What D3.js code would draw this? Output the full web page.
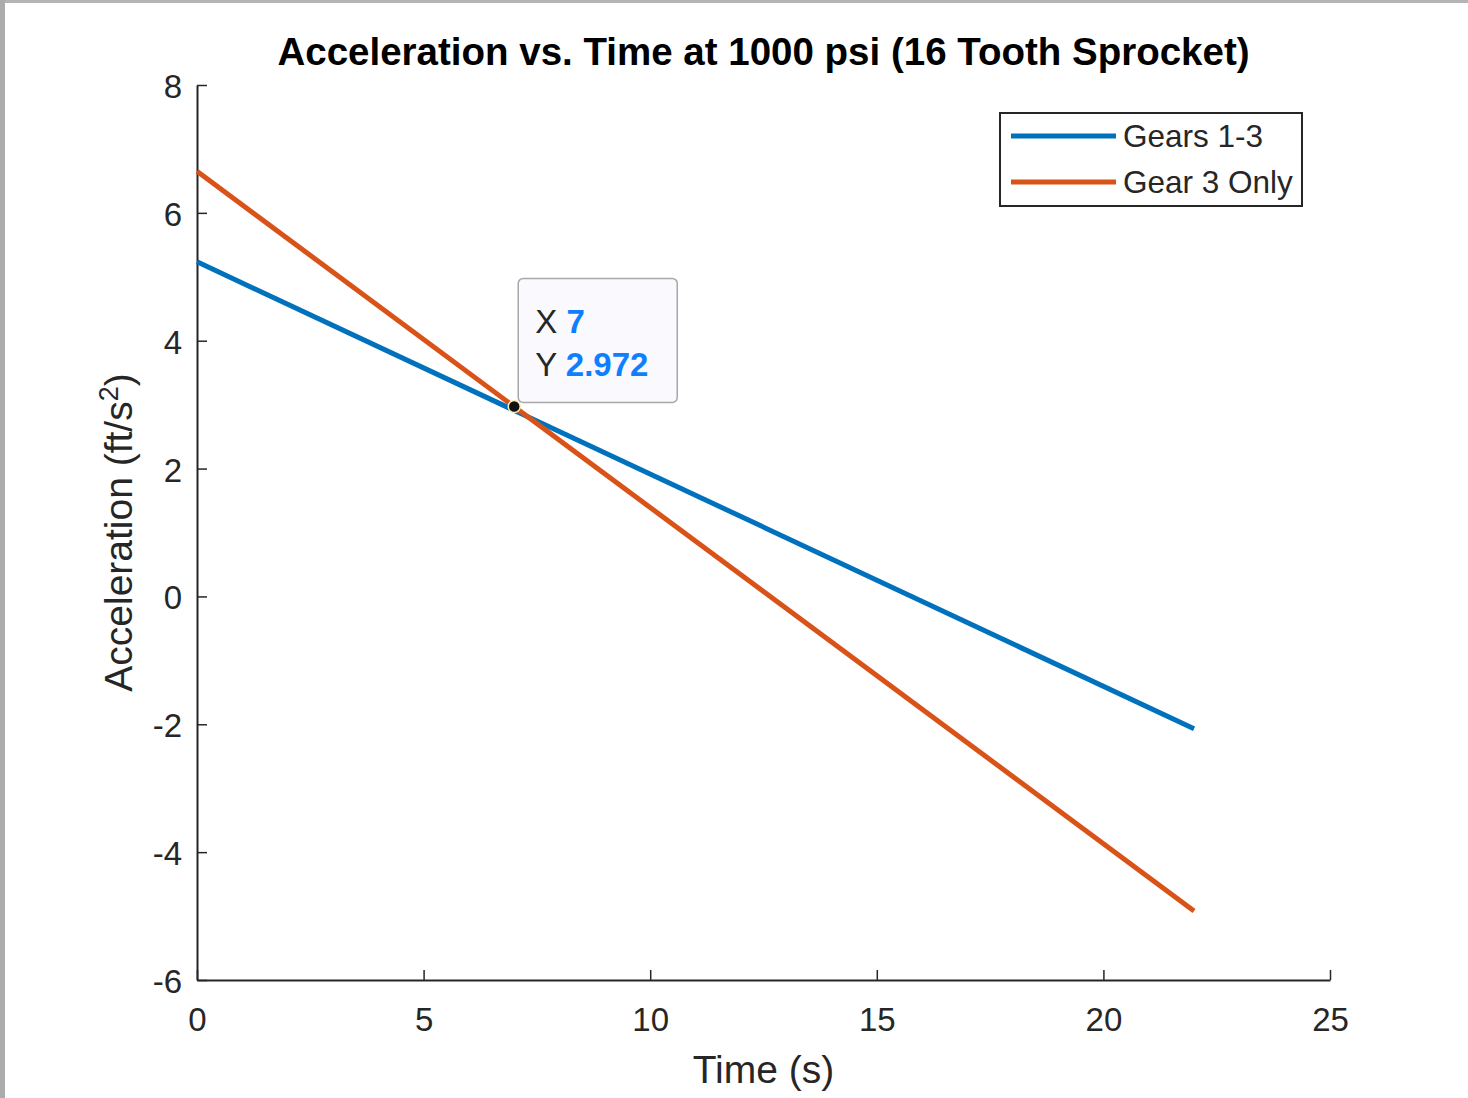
<!DOCTYPE html>
<head>
  <meta http-equiv="Content-Type" content="text/html; charset=utf-8">
  <style>
    body { margin: 0; background: #fff; }
    text { font-family: "Liberation Sans", Arial, sans-serif; }
  </style>
</head>
<body></body>
<script src="https://d3js.org/d3.v7.min.js"></script>
<script>

var width = 1468,
    height = 1098;

// Data
var seriesNames = ["Gears 1-3", "Gear 3 Only"];
var seriesColors = ["#0072BD", "#D95319"];
var timeVals = [0, 22];
var gears13 = [5.235, -2.07];
var gear3only = [6.65, -4.92];
var xTicks = [0, 5, 10, 15, 20, 25];
var yTicks = [-6, -4, -2, 0, 2, 4, 6, 8];
var tipPoint = {x: 7, y: 2.972};

var margin = {left: 197, right: 138, top: 85, bottom: 118};

var xs = d3.scaleLinear()
    .domain([0, 25])
    .range([margin.left, width - margin.right]);
var ys = d3.scaleLinear()
    .domain([-6, 8])
    .range([height - margin.bottom, margin.top]);

var svg = d3.select("body").append("svg")
    .attr("width", width)
    .attr("height", height);

// figure frame (grey strips on the top and left)
svg.append("rect").attr("x", 0).attr("y", 0).attr("width", width).attr("height", 3).attr("fill", "#b4b4b4");
svg.append("rect").attr("x", 0).attr("y", 0).attr("width", 5).attr("height", height).attr("fill", "#acacac");

var axisColor = "#262626";
var plain = function(d){ return String(d); };

// axes, ticks inward
var xAxis = svg.append("g")
    .attr("transform", "translate(0," + ys(-6) + ")")
    .call(d3.axisBottom(xs).tickValues(xTicks).tickFormat(plain).tickSizeInner(-10).tickSizeOuter(0).tickPadding(28));
var yAxis = svg.append("g")
    .attr("transform", "translate(" + xs(0) + ",0)")
    .call(d3.axisLeft(ys).tickValues(yTicks).tickFormat(plain).tickSizeInner(-10).tickSizeOuter(0).tickPadding(15));

[xAxis, yAxis].forEach(function(ax){
  ax.select(".domain").attr("stroke", axisColor).attr("stroke-width", 2);
  ax.selectAll(".tick line").attr("stroke", axisColor).attr("stroke-width", 1.5);
  ax.selectAll(".tick text")
    .attr("fill", axisColor)
    .style("font-size", "33px")
    .style("font-family", "'Liberation Sans', Arial, sans-serif");
});
yAxis.selectAll(".tick text").attr("dy", "0.38em");

// lines
var series = [gears13, gear3only];
var line = d3.line()
    .x(function(d, i){ return xs(timeVals[i]); })
    .y(function(d){ return ys(d); });

svg.selectAll(".series")
    .data(series)
    .enter()
    .append("path")
    .attr("class", "series")
    .attr("d", line)
    .attr("fill", "none")
    .attr("stroke", function(d, i){ return seriesColors[i]; })
    .attr("stroke-width", 5);

// title and axis labels
svg.append("text")
    .attr("x", (xs(0) + xs(25)) / 2)
    .attr("y", 65)
    .attr("text-anchor", "middle")
    .attr("font-weight", "bold")
    .attr("fill", "#000")
    .style("font-size", "38.5px")
    .text("Acceleration vs. Time at 1000 psi (16 Tooth Sprocket)");

svg.append("text")
    .attr("x", (xs(0) + xs(25)) / 2)
    .attr("y", 1083)
    .attr("text-anchor", "middle")
    .attr("fill", axisColor)
    .style("font-size", "39px")
    .text("Time (s)");

var ylab = svg.append("text")
    .attr("transform", "translate(132," + (ys(-6) + ys(8)) / 2 + ") rotate(-90)")
    .attr("text-anchor", "middle")
    .attr("fill", axisColor)
    .style("font-size", "39px");
ylab.append("tspan").text("Acceleration (ft/s");
ylab.append("tspan").attr("dy", -14).style("font-size", "27px").text("2");
ylab.append("tspan").attr("dy", 14).text(")");

// legend
var legend = svg.append("g").attr("transform", "translate(1000,113)");
legend.append("rect")
    .attr("width", 302).attr("height", 93)
    .attr("fill", "#fff").attr("stroke", axisColor).attr("stroke-width", 2);
seriesNames.forEach(function(name, i){
  var yy = 23 + i * 46;
  legend.append("line")
    .attr("x1", 11).attr("x2", 116).attr("y1", yy).attr("y2", yy)
    .attr("stroke", seriesColors[i]).attr("stroke-width", 5);
  legend.append("text")
    .attr("x", 123).attr("y", yy + 11)
    .attr("fill", axisColor)
    .style("font-size", "31.5px")
    .text(name);
});

// data tip
var tx = xs(tipPoint.x), ty = ys(tipPoint.y);
var tip = svg.append("g").attr("transform", "translate(" + (tx + 4) + "," + (ty - 128) + ")");
tip.append("rect")
    .attr("width", 159).attr("height", 124).attr("rx", 5)
    .attr("fill", "#f9f9fe").attr("stroke", "#a8a8a8").attr("stroke-width", 1.5);
[["X", tipPoint.x], ["Y", tipPoint.y]].forEach(function(r, i){
  var t = tip.append("text")
    .attr("x", 17).attr("y", 55 + i * 43)
    .style("font-size", "33px");
  t.append("tspan").attr("fill", "#262626").text(r[0] + " ");
  t.append("tspan").attr("fill", "#0f7fff").attr("font-weight", "bold").text(r[1]);
});
svg.append("circle")
    .attr("cx", tx).attr("cy", ty).attr("r", 6)
    .attr("fill", "#111").attr("stroke", "#f4f0c0").attr("stroke-width", 1.5);

</script>
</html>
